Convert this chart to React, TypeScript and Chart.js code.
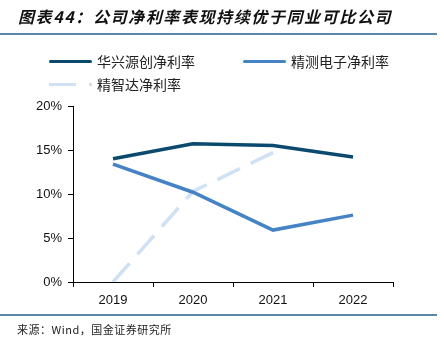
import React, { useEffect, useRef } from "react";
import { Chart, registerables } from "chart.js";

Chart.register(...registerables);

const categories = ["2019", "2020", "2021", "2022"];
const hxyc = [14.0, 15.7, 15.5, 14.2];
const jcdz = [13.4, 10.2, 5.9, 7.6];
const jzd: (number | null)[] = [0, 10.3, 14.7, null];
const seriesNames = ["华兴源创净利率", "精测电子净利率", "精智达净利率"];
const colors = ["#0b4a6e", "#4583c4", "#cfe1f3"];
const yTicks = [0, 5, 10, 15, 20];

export default function App() {
  const ref = useRef<HTMLCanvasElement>(null);
  useEffect(() => {
    if (!ref.current) return;
    const chart = new Chart(ref.current, {
      type: "line",
      data: {
        labels: categories,
        datasets: [
          { label: seriesNames[0], data: hxyc, borderColor: colors[0], borderWidth: 3.5, pointRadius: 0, tension: 0 },
          { label: seriesNames[1], data: jcdz, borderColor: colors[1], borderWidth: 3.5, pointRadius: 0, tension: 0 },
          { label: seriesNames[2], data: jzd, borderColor: colors[2], borderWidth: 3.5, pointRadius: 0, tension: 0, borderDash: [25, 12], spanGaps: false },
        ],
      },
      options: {
        animation: false,
        responsive: false,
        maintainAspectRatio: false,
        layout: { padding: { left: 0, top: 106, right: 51, bottom: 0 } },
        plugins: { legend: { display: false }, tooltip: { enabled: false }, title: { display: false } },
        scales: {
          x: {
            type: "category",
            offset: true,
            grid: { display: true, offset: true, drawOnChartArea: false, drawTicks: true, tickLength: 5, color: "#000", lineWidth: 1 },
            border: { display: true, color: "#000", width: 1 },
            ticks: { color: "#111", font: { family: "Liberation Sans, Arial", size: 13 }, padding: 6, maxRotation: 0 },
            afterFit: (s: any) => { s.height = 72; },
          },
          y: {
            min: 0,
            max: 20,
            afterBuildTicks: (s: any) => { s.ticks = yTicks.map((v) => ({ value: v })); },
            grid: { display: true, drawOnChartArea: false, drawTicks: true, tickLength: 5, color: "#000", lineWidth: 1 },
            border: { display: true, color: "#000", width: 1 },
            ticks: { color: "#111", font: { family: "Liberation Sans, Arial", size: 13 }, padding: 6, callback: (v: any) => v + "%" },
            afterFit: (s: any) => { s.width = 73; },
          },
        },
      },
    });
    return () => chart.destroy();
  }, []);

  const legendText: React.CSSProperties = {
    position: "absolute",
    fontFamily: "'Noto Sans CJK SC', sans-serif",
    fontSize: 14,
    color: "#222",
    lineHeight: "16px",
    whiteSpace: "nowrap",
  };

  return (
    <div style={{ position: "fixed", left: 0, top: 0, width: 444, height: 354, background: "#fff", overflow: "hidden" }}>
      <canvas ref={ref} width={444} height={354} style={{ position: "absolute", left: 0, top: 0, width: 444, height: 354 }} />
      <div style={{ position: "absolute", left: 18, top: 6, fontFamily: "'Noto Sans CJK SC', sans-serif", fontSize: 16, letterSpacing: 1.6, fontStyle: "italic", fontWeight: 700, color: "#111", whiteSpace: "nowrap", lineHeight: "20px" }}>
        图表44：公司净利率表现持续优于同业可比公司
      </div>
      <div style={{ position: "absolute", left: 0, top: 33, width: 437, height: 2, background: "#5b87a8" }} />
      {/* legend */}
      <div style={{ position: "absolute", left: 49, top: 59.5, width: 43, height: 3.5, background: colors[0], borderRadius: 2 }} />
      <div style={{ ...legendText, left: 97, top: 53 }}>{seriesNames[0]}</div>
      <div style={{ position: "absolute", left: 243, top: 59.5, width: 43, height: 3.5, background: colors[1], borderRadius: 2 }} />
      <div style={{ ...legendText, left: 291, top: 53 }}>{seriesNames[1]}</div>
      <div style={{ position: "absolute", left: 49, top: 82.5, width: 27, height: 3.5, background: colors[2] }} />
      <div style={{ position: "absolute", left: 89, top: 82.5, width: 3, height: 3.5, background: colors[2] }} />
      <div style={{ ...legendText, left: 97, top: 76 }}>{seriesNames[2]}</div>
      <div style={{ position: "absolute", left: 0, top: 314, width: 437, height: 2, background: "#5b87a8" }} />
      <div style={{ position: "absolute", left: 17, top: 322, fontFamily: "'Noto Sans CJK SC', sans-serif", fontSize: 11, letterSpacing: 0.5, color: "#222", whiteSpace: "nowrap", lineHeight: "14px" }}>
        来源：Wind，国金证券研究所
      </div>
    </div>
  );
}
